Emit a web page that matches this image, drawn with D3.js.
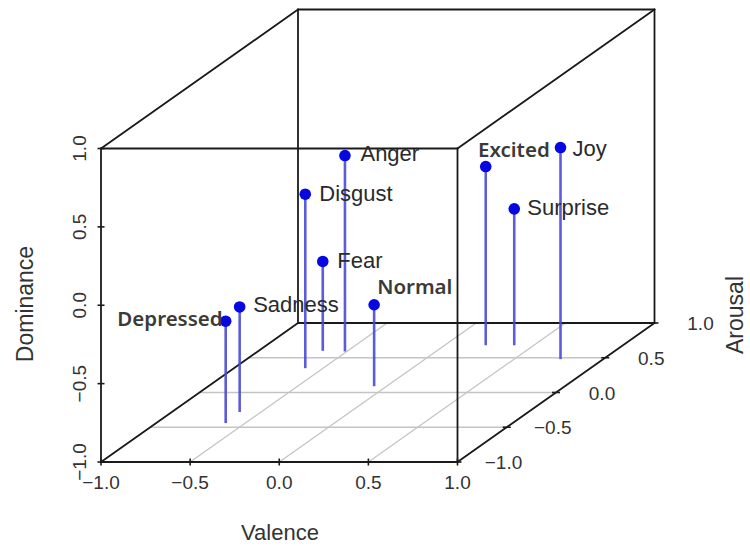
<!DOCTYPE html>
<html>
<head>
<meta charset="utf-8">
<script src="https://cdn.jsdelivr.net/npm/d3@7/dist/d3.min.js"></script>
<style>
  html, body { margin: 0; padding: 0; background: #fff; }
  svg { display: block; }
</style>
</head>
<body>
<svg id="chart" width="750" height="546"></svg>
<script>
// Emotion coordinates in valence / arousal / dominance space
const emotions  = ["Depressed", "Sadness", "Disgust", "Fear", "Anger", "Normal", "Excited", "Surprise", "Joy"];
const valence   = [-0.61, -0.62, -0.60, -0.64, -0.51, -0.07, 0.23, 0.39, 0.76];
const arousal   = [-0.44, -0.28,  0.35,  0.60,  0.59,  0.09, 0.68, 0.68, 0.48];
const dominance = [-0.35, -0.33,  0.11, -0.43,  0.25, -0.48, 0.14, -0.13, 0.35];

const tickValues = [-1, -0.5, 0, 0.5, 1];
const tickLabels = ["\u22121.0", "\u22120.5", "0.0", "0.5", "1.0"];
const gridValues = [-0.5, 0, 0.5];

// Label placement relative to each point (dx, baseline dy, anchor, bold)
const labelPlacement = {
  Depressed: { dx: -3,   dy: 4.5,  anchor: "end",   bold: true },
  Sadness:   { dx: 13.5, dy: 5.5,  anchor: "start", bold: false },
  Disgust:   { dx: 14,   dy: 7,    anchor: "start", bold: false },
  Fear:      { dx: 14.5, dy: 6.5,  anchor: "start", bold: false },
  Anger:     { dx: 15.5, dy: 5.5,  anchor: "start", bold: false },
  Normal:    { dx: 3,    dy: -10.5, anchor: "start", bold: true },
  Excited:   { dx: 64,   dy: -10,  anchor: "end",   bold: true },
  Surprise:  { dx: 13,   dy: 6,    anchor: "start", bold: false },
  Joy:       { dx: 12,   dy: 8.5,  anchor: "start", bold: false }
};

const svg = d3.select("#chart");

// Oblique projection: valence across, dominance up, arousal receding
const xScale = d3.scaleLinear().domain([-1, 1]).range([101, 457.5]);
const zScale = d3.scaleLinear().domain([-1, 1]).range([462, 148.5]);
const depthX = d3.scaleLinear().domain([-1, 1]).range([0, 197]);
const depthY = d3.scaleLinear().domain([-1, 1]).range([0, -139]);
const project = (v, a, d) => [xScale(v) + depthX(a), zScale(d) + depthY(a)];

const seg = (p, q) => d3.line()([project(...p), project(...q)]);

// Floor grid
const grid = svg.append("g").attr("stroke", "#c4c4c4").attr("stroke-width", 1.3).attr("fill", "none");
gridValues.forEach(t => {
  grid.append("path").attr("d", seg([-1, t, -1], [1, t, -1]));
  grid.append("path").attr("d", seg([t, -1, -1], [t, 1, -1]));
});

// Bounding box
const corners = [];
[-1, 1].forEach(v => [-1, 1].forEach(a => [-1, 1].forEach(d => corners.push([v, a, d]))));
const edges = [];
corners.forEach((p, i) => corners.forEach((q, j) => {
  if (j > i) {
    const diff = p.reduce((n, c, k) => n + (c !== q[k] ? 1 : 0), 0);
    if (diff === 1) edges.push([p, q]);
  }
}));
svg.append("g").attr("stroke", "#1a1a1a").attr("stroke-width", 1.8).attr("fill", "none")
  .selectAll("path").data(edges).join("path")
  .attr("stroke-linecap", "round")
  .attr("d", e => seg(e[0], e[1]));

// Tick marks
const ticks = svg.append("g").attr("stroke", "#1a1a1a").attr("stroke-width", 1.6);
tickValues.forEach(t => {
  const [bx, by] = project(t, -1, -1);
  ticks.append("line").attr("x1", bx).attr("x2", bx).attr("y1", by - 3.5).attr("y2", by + 3.5);
  const [lx, ly] = project(-1, -1, t);
  ticks.append("line").attr("x1", lx - 3.5).attr("x2", lx + 3.5).attr("y1", ly).attr("y2", ly);
  const [rx, ry] = project(1, t, -1);
  ticks.append("line").attr("x1", rx - 4).attr("x2", rx + 4).attr("y1", ry).attr("y2", ry);
});

// Tick labels
const tickFont = { family: "'Liberation Sans', Arial, Helvetica, sans-serif", size: 19, fill: "#333" };
const labels = svg.append("g")
  .attr("font-family", tickFont.family).attr("font-size", tickFont.size).attr("fill", tickFont.fill)
  .attr("text-anchor", "middle");
tickValues.forEach((t, i) => {
  const [bx, by] = project(t, -1, -1);
  labels.append("text").attr("x", bx).attr("y", by + 27).text(tickLabels[i]);
  const [lx, ly] = project(-1, -1, t);
  labels.append("text").attr("transform", `translate(${lx - 15},${ly}) rotate(-90)`).text(tickLabels[i]);
  const [rx, ry] = project(1, t, -1);
  labels.append("text").attr("x", rx + 46).attr("y", ry + 7).text(tickLabels[i]);
});

// Axis titles
const titles = svg.append("g")
  .attr("font-family", tickFont.family).attr("fill", "#333").attr("text-anchor", "middle");
titles.append("text").attr("x", 280).attr("y", 540).attr("font-size", 22).text("Valence");
titles.append("text").attr("transform", "translate(33,304) rotate(-90)").attr("font-size", 23).text("Dominance");
titles.append("text").attr("transform", "translate(743,315) rotate(-90)").attr("font-size", 23).text("Arousal");

// Points with drop lines to the floor
const points = emotions.map((name, i) => ({
  name,
  top: project(valence[i], arousal[i], dominance[i]),
  base: project(valence[i], arousal[i], -1)
}));

svg.append("g").attr("stroke", "#4a4ad6").attr("stroke-width", 2.6).attr("stroke-opacity", 0.9)
  .selectAll("line").data(points).join("line")
  .attr("x1", d => d.base[0]).attr("y1", d => d.base[1])
  .attr("x2", d => d.top[0]).attr("y2", d => d.top[1]);

svg.append("g").attr("fill", "#0707e0")
  .selectAll("circle").data(points).join("circle")
  .attr("cx", d => d.top[0]).attr("cy", d => d.top[1]).attr("r", 5.8);

// Point labels
svg.append("g").selectAll("text").data(points).join("text")
  .attr("x", d => d.top[0] + labelPlacement[d.name].dx)
  .attr("y", d => d.top[1] + labelPlacement[d.name].dy)
  .attr("text-anchor", d => labelPlacement[d.name].anchor)
  .attr("font-family", d => labelPlacement[d.name].bold
    ? "'Noto Sans', 'Open Sans', sans-serif"
    : "'Liberation Sans', Arial, Helvetica, sans-serif")
  .attr("font-weight", d => labelPlacement[d.name].bold ? 600 : 400)
  .attr("font-size", d => labelPlacement[d.name].bold ? 20.5 : 22)
  .attr("fill", d => labelPlacement[d.name].bold ? "#3a3a3a" : "#2a2a2a")
  .text(d => d.name);
</script>
</body>
</html>
